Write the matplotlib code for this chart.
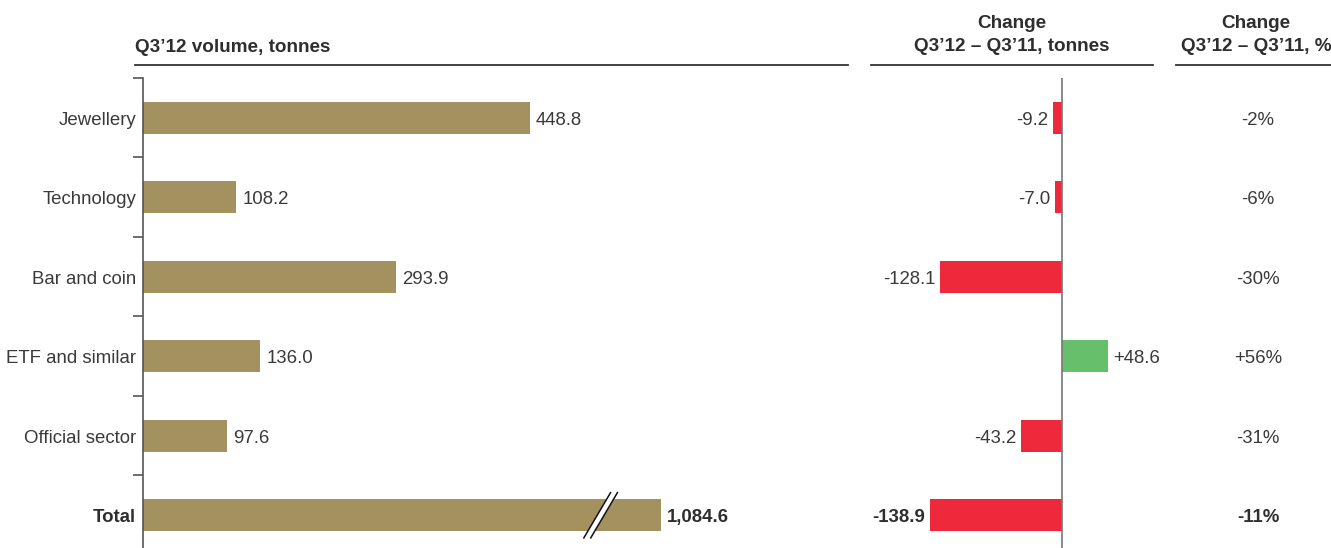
import matplotlib.pyplot as plt
from matplotlib.lines import Line2D
from matplotlib.patches import Polygon

plt.rcParams["font.family"] = ["Liberation Sans", "DejaVu Sans"]

categories = ["Jewellery", "Technology", "Bar and coin", "ETF and similar",
              "Official sector", "Total"]
volume = [448.8, 108.2, 293.9, 136.0, 97.6, 1084.6]
volume_labels = ["448.8", "108.2", "293.9", "136.0", "97.6", "1,084.6"]
change_t = [-9.2, -7.0, -128.1, 48.6, -43.2, -138.9]
change_t_labels = ["-9.2", "-7.0", "-128.1", "+48.6", "-43.2", "-138.9"]
change_pct_labels = ["-2%", "-6%", "-30%", "+56%", "-31%", "-11%"]

GOLD = "#A3915F"
RED = "#EE293B"
GREEN = "#66BF6A"
TEXT = "#3a3a3a"
HEAD = "#2e2e2e"
BAR_CAP = 601  # total bar is drawn broken at this length
FS = 13.4
FS_B = 13.4

W, H = 1331, 548
fig = plt.figure(figsize=(W / 100, H / 100), dpi=100)


def fx(px):
    return px / W


def fy(py):
    return 1 - py / H


def style(i):
    if categories[i] == "Total":
        return dict(fontsize=FS_B, fontweight="bold", color=HEAD)
    return dict(fontsize=FS, color=TEXT)


n = len(categories)
rows = list(range(n))
ax_bottom = fy(555)
ax_height = 477 / H
dy = 0.03  # small downward nudge of row text

# --- left panel: volume
ax = fig.add_axes([fx(143), ax_bottom, fx(848 - 143), ax_height])
drawn = [min(v, BAR_CAP) for v in volume]
ax.barh(rows, drawn, height=0.40, color=GOLD, left=0)
ax.set_xlim(0, 818)
ax.set_ylim(n - 0.5, -0.5)
for i, (v, lab) in enumerate(zip(drawn, volume_labels)):
    ax.text(v + 7, i + dy, lab, va="center", ha="left", **style(i))
    ax.text(-8, i + dy, categories[i], va="center", ha="right", **style(i))
for s in ["top", "right", "bottom"]:
    ax.spines[s].set_visible(False)
ax.spines["left"].set_color("#555555")
ax.spines["left"].set_linewidth(1.2)
ax.set_xticks([])
ax.set_yticks([i - 0.5 for i in range(n + 1)])
ax.set_yticklabels([])
ax.tick_params(axis="y", direction="out", length=7, width=1.2, color="#555555")

# break marks on the total bar
xc, half_w, gap, yh = 531, 15.5, 8, 0.285
brk = Polygon([(xc - half_w - gap / 2, n - 1 + yh), (xc + half_w - gap / 2, n - 1 - yh),
               (xc + half_w + gap / 2, n - 1 - yh), (xc - half_w + gap / 2, n - 1 + yh)],
              closed=True, facecolor="white", edgecolor="none", zorder=3, clip_on=False)
ax.add_patch(brk)
for off in (-gap / 2, gap / 2):
    ax.plot([xc - half_w + off, xc + half_w + off], [n - 1 + yh, n - 1 - yh],
            color="#111111", lw=1.1, zorder=4, clip_on=False)

# --- middle panel: change in tonnes
ax2 = fig.add_axes([fx(871), ax_bottom, fx(1153 - 871), ax_height])
colors = [RED if v < 0 else GREEN for v in change_t]
ax2.barh(rows, change_t, height=0.40, color=colors)
ax2.set_xlim(-201, 96)
ax2.set_ylim(n - 0.5, -0.5)
ax2.axvline(0, ymin=0, ymax=1, color="#777777", lw=1.2)
for i, (v, lab) in enumerate(zip(change_t, change_t_labels)):
    if v < 0:
        ax2.text(v - 5, i + dy, lab, va="center", ha="right", **style(i))
    else:
        ax2.text(v + 5, i + dy, lab, va="center", ha="left", **style(i))
ax2.axis("off")

# --- right panel: change in %
ax3 = fig.add_axes([fx(1176), ax_bottom, fx(1331 - 1176), ax_height])
ax3.set_xlim(0, 1)
ax3.set_ylim(n - 0.5, -0.5)
for i, lab in enumerate(change_pct_labels):
    ax3.text((1258 - 1176) / 155, i + dy, lab, va="center", ha="center", **style(i))
ax3.axis("off")

# --- headers
for x0, x1 in [(135, 848), (871, 1153), (1176, 1331)]:
    fig.add_artist(Line2D([fx(x0), fx(x1)], [fy(65), fy(65)], color="#333333", lw=1.3))
fig.text(fx(135), fy(47), "Q3\u201912 volume, tonnes", ha="left", va="center",
         fontsize=13.6, fontweight="bold", color=HEAD)
fig.text(fx(1012), fy(35), "Change\nQ3\u201912 \u2013 Q3\u201911, tonnes", ha="center",
         va="center", fontsize=13.6, fontweight="bold", color=HEAD, linespacing=1.4)
fig.text(fx(1256), fy(35), "Change\nQ3\u201912 \u2013 Q3\u201911, %", ha="center",
         va="center", fontsize=13.6, fontweight="bold", color=HEAD, linespacing=1.4)

fig.savefig("out.png", dpi=100)
